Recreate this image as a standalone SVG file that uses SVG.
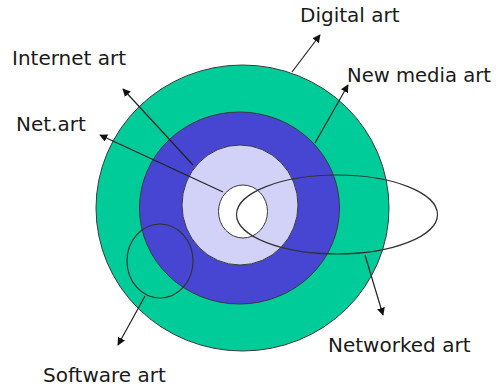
<svg xmlns="http://www.w3.org/2000/svg" width="496" height="389" viewBox="0 0 496 389">
<style>
.ring{stroke:#3a3a3a;stroke-width:1}
.outline{fill:none;stroke:#333;stroke-width:1.2}
.arrow{stroke:#222;stroke-width:1.2;fill:none;marker-end:url(#ah)}
text{font-family:"DejaVu Sans","Verdana",sans-serif;font-size:20px;fill:#1a1a1a}
</style>
<defs>
<marker id="ah" viewBox="0 0 10 10" refX="9" refY="5" markerWidth="8" markerHeight="8" markerUnits="userSpaceOnUse" orient="auto">
<path d="M0,0 L10,5 L0,10 z" fill="#111"/>
</marker>
</defs>
<g id="digital-art-area"><ellipse class="ring" cx="242.5" cy="208" rx="146.5" ry="143" fill="#00CC99"/></g>
<g id="new-media-art-area"><ellipse class="ring" cx="239.5" cy="208" rx="100" ry="96" fill="#4646D2"/></g>
<g id="internet-art-area"><ellipse class="ring" cx="240" cy="205" rx="58" ry="60" fill="#D2D2F8"/></g>
<g id="net-art-area"><ellipse class="ring" cx="243" cy="211.5" rx="24.5" ry="26.5" fill="#FFFFFF"/></g>
<g id="networked-art-area"><ellipse class="outline" cx="337" cy="214.5" rx="100.5" ry="39.5"/></g>
<g id="software-art-area"><ellipse class="outline" cx="160" cy="261" rx="33" ry="37"/></g>
<g id="connectors">
<line class="arrow" x1="193" y1="165" x2="123" y2="89"/>
<line class="arrow" x1="223" y1="192" x2="100" y2="135"/>
<line class="arrow" x1="292" y1="72" x2="320" y2="35"/>
<line class="arrow" x1="315" y1="143" x2="348" y2="85"/>
<line class="arrow" x1="145" y1="296" x2="118" y2="345"/>
<line class="arrow" x1="365" y1="255" x2="383" y2="315"/>
</g>
<g id="labels">
<text x="12" y="65">Internet art</text>
<text x="16" y="131">Net.art</text>
<text x="300" y="22">Digital art</text>
<text x="347" y="82" style="font-size:19.6px">New media art</text>
<text x="43" y="382">Software art</text>
<text x="328" y="352">Networked art</text>
</g>
</svg>
